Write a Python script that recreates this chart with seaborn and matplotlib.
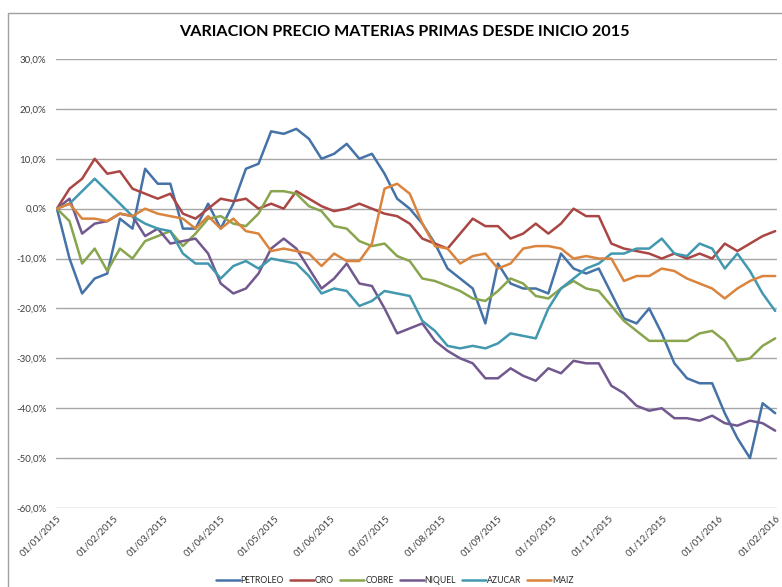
import matplotlib
matplotlib.use("Agg")
import matplotlib.pyplot as plt
import matplotlib.dates as mdates
from matplotlib.ticker import FuncFormatter, MultipleLocator
from matplotlib.patches import Rectangle
import seaborn as sns
import pandas as pd

# weekly readings (percent change since 01/01/2015)
fechas = pd.date_range("2015-01-01", "2016-02-01", periods=58)

petroleo = [0, -10, -17, -14, -13, -2, -4, 8, 5, 5, -4, -4, 1, -4, 1, 8, 9, 15.5,
            15, 16, 14, 10, 11, 13, 10, 11, 7, 2, 0, -3, -7, -12, -14, -16, -23,
            -11, -15, -16, -16, -17, -9, -12, -13, -12, -17, -22, -23, -20, -25,
            -31, -34, -35, -35, -41, -46, -50, -39, -41]
oro = [0, 4, 6, 10, 7, 7.5, 4, 3, 2, 3, -1, -2, 0, 2, 1.5, 2, 0, 1, 0, 3.5, 2,
       0.5, -0.5, 0, 1, 0, -1, -1.5, -3, -6, -7, -8, -5, -2, -3.5, -3.5, -6, -5,
       -3, -5, -3, 0, -1.5, -1.5, -7, -8, -8.5, -9, -10, -9, -10, -9, -10, -7,
       -8.5, -7, -5.5, -4.5]
cobre = [0, -2.5, -11, -8, -12.5, -8, -10, -6.5, -5.5, -4.5, -7.5, -5, -2, -1.5,
         -3, -3.5, -1, 3.5, 3.5, 3, 0.5, -0.5, -3.5, -4, -6.5, -7.5, -7, -9.5,
         -10.5, -14, -14.5, -15.5, -16.5, -18, -18.5, -16.5, -14, -15, -17.5, -18,
         -16, -14.5, -16, -16.5, -19.5, -22.5, -24.5, -26.5, -26.5, -26.5, -26.5,
         -25, -24.5, -26.5, -30.5, -30, -27.5, -26]
niquel = [0, 2, -5, -3, -2.5, -1, -1.5, -5.5, -4, -7, -6.5, -6, -9, -15, -17, -16,
          -13, -8, -6, -8, -12, -16, -14, -11, -15, -15.5, -20, -25, -24, -23,
          -26.5, -28.5, -30, -31, -34, -34, -32, -33.5, -34.5, -32, -33, -30.5,
          -31, -31, -35.5, -37, -39.5, -40.5, -40, -42, -42, -42.5, -41.5, -43,
          -43.5, -42.5, -43, -44.5]
azucar = [0, 1, 3.5, 6, 3.5, 1, -1.5, -3, -4, -4.5, -9, -11, -11, -14, -11.5,
          -10.5, -12, -10, -10.5, -11, -13.5, -17, -16, -16.5, -19.5, -18.5, -16.5,
          -17, -17.5, -22.5, -24.5, -27.5, -28, -27.5, -28, -27, -25, -25.5, -26,
          -20, -16, -14, -12, -11, -9, -9, -8, -8, -6, -9, -9.5, -7, -8, -12, -9,
          -12.5, -17, -20.5]
maiz = [0, 1, -2, -2, -2.5, -1, -1.5, 0, -1, -1.5, -2, -4, -1.5, -4, -2, -4.5, -5,
        -8.5, -8, -8.5, -9, -11.5, -9, -10.5, -10.5, -7, 4, 5, 3, -3, -7.5, -8,
        -11, -9.5, -9, -12, -11, -8, -7.5, -7.5, -8, -10, -9.5, -10, -10, -14.5,
        -13.5, -13.5, -12, -12.5, -14, -15, -16, -18, -16, -14.5, -13.5, -13.5]

nombres = ["PETROLEO", "ORO", "COBRE", "NIQUEL", "AZUCAR", "MAIZ"]
colores = ["#4572A7", "#AA4643", "#89A54E", "#71588F", "#4198AF", "#DB843D"]
series = [petroleo, oro, cobre, niquel, azucar, maiz]

df = pd.concat([pd.DataFrame({"fecha": fechas, "valor": s, "serie": n})
                for n, s in zip(nombres, series)])

sns.set_style("white")
plt.rcParams["font.family"] = ["Lato", "DejaVu Sans"]

fig = plt.figure(figsize=(7.82, 5.87), dpi=100)
ax = fig.add_axes([56 / 782, 1 - 508 / 587, 721 / 782, 449 / 587])

sns.lineplot(data=df, x="fecha", y="valor", hue="serie", hue_order=nombres,
             palette=dict(zip(nombres, colores)), linewidth=1.8, ax=ax)

ax.set_ylim(-60, 30)
ax.set_xlim(pd.Timestamp("2014-12-31 12:00"), pd.Timestamp("2016-02-02"))
ax.yaxis.set_major_locator(MultipleLocator(10))
ax.yaxis.set_major_formatter(FuncFormatter(lambda v, p: f"{v:.1f}%".replace(".", ",")))
ax.xaxis.set_major_locator(mdates.MonthLocator(bymonthday=1))
ax.xaxis.set_major_formatter(mdates.DateFormatter("%d/%m/%Y"))
ax.grid(axis="y", color="#a6a6a6", linewidth=1)
ax.grid(axis="x", visible=False)
for s in ax.spines.values():
    s.set_visible(False)
ax.tick_params(axis="both", length=0, labelsize=7, labelcolor="#404040")
ax.tick_params(axis="y", pad=7)
ax.tick_params(axis="x", pad=4)
for lab in ax.get_xticklabels():
    lab.set_rotation(45)
    lab.set_ha("right")
    lab.set_rotation_mode("anchor")
ax.set_xlabel("")
ax.set_ylabel("")

ax.legend(loc="upper center", bbox_to_anchor=(0.47, -0.135), ncol=6, frameon=False,
          fontsize=6.2, handlelength=2.8, handletextpad=0.1, columnspacing=0.7)

fig.suptitle("VARIACION PRECIO MATERIAS PRIMAS DESDE INICIO 2015", x=0.517, y=0.958,
             fontsize=11.6, fontweight="bold", color="black")

fig.patches.append(Rectangle((8 / 782, -0.05), 1.2, 1 - 13 / 587 + 0.05,
                             transform=fig.transFigure, fill=False,
                             edgecolor="#a0a0a0", linewidth=1))

fig.savefig("out.png", dpi=100)
